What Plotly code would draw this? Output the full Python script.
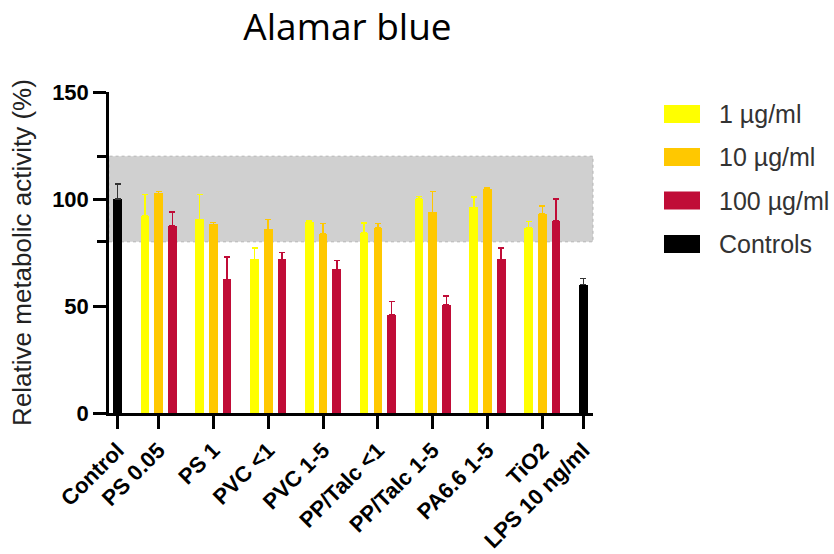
import plotly.graph_objects as go

# ---------------- data ----------------
categories = ["Control", "PS 0.05", "PS 1", "PVC <1", "PVC 1-5", "PP/Talc <1",
              "PP/Talc 1-5", "PA6.6 1-5", "TiO2", "LPS 10 ng/ml"]
control_labels = ["Control", "LPS 10 ng/ml"]
treatment_labels = categories[1:9]

series_names = ["1 µg/ml", "10 µg/ml", "100 µg/ml", "Controls"]

dose_1 = [92.0, 90.5, 71.8, 89.4, 84.3, 100.0, 96.1, 86.6]
dose_1_err = [10.0, 11.5, 5.2, 0.6, 4.6, 1.2, 4.8, 2.8]
dose_10 = [102.6, 88.2, 85.8, 83.6, 86.6, 93.8, 104.7, 93.0]
dose_10_err = [0.8, 0.8, 4.7, 5.0, 2.0, 9.6, 0.4, 3.7]
dose_100 = [87.5, 62.5, 71.8, 67.1, 45.8, 50.5, 71.8, 89.9]
dose_100_err = [6.5, 10.5, 3.2, 4.1, 6.2, 4.2, 5.2, 10.1]
controls = [100.0, 60.0]
controls_err = [6.9, 2.9]

band_low, band_high = 80, 120
y_ticks = [0, 50, 100, 150]

# ---------------- styles ----------------
colors = ["#FFFF00", "#FFC800", "#C00C37", "#000000"]
FONT = "Liberation Sans, Arial, sans-serif"
BAR_W = 0.63
GAP = 1  # empty slots between groups

# ---------------- layout of slots (derived from group sizes) ----------------
group_sizes = [1 if c in control_labels else 3 for c in categories]
starts, centers = [], []
slot = 0
for n in group_sizes:
    starts.append(slot)
    centers.append(slot + (n - 1) / 2)
    slot += n + GAP
treat_starts = [s for s, c in zip(starts, categories) if c not in control_labels]
ctrl_x = [s for s, c in zip(starts, categories) if c in control_labels]

fig = go.Figure()
for k, (vals, errs) in enumerate([(dose_1, dose_1_err), (dose_10, dose_10_err),
                                  (dose_100, dose_100_err)]):
    fig.add_trace(go.Bar(
        x=[s + k for s in treat_starts], y=vals, width=BAR_W,
        name=series_names[k], marker=dict(color=colors[k], line=dict(width=0)),
        error_y=dict(type="data", array=errs, arrayminus=[0] * len(errs),
                     symmetric=False, color=colors[k], thickness=1.5, width=3),
        customdata=treatment_labels, showlegend=False))
fig.add_trace(go.Bar(
    x=ctrl_x, y=controls, width=BAR_W, name=series_names[3],
    marker=dict(color=colors[3], line=dict(width=0)),
    error_y=dict(type="data", array=controls_err, arrayminus=[0, 0],
                 symmetric=False, color="#333333", thickness=1.5, width=3),
    customdata=control_labels, showlegend=False))

# ---------------- geometry ----------------
W, H = 834, 554
L, R, T, B = 109, 593, 92, 413


def px_x(x):
    return (x - L) / (R - L)


def px_y(y):
    return (B - y) / (B - T)


shapes = [dict(type="rect", xref="x domain", yref="y", x0=0, x1=1,
               y0=band_low, y1=band_high, fillcolor="#D0D0D0",
               line=dict(color="#B5B5B5", width=1, dash="dot"), layer="below")]
annotations = []
# custom legend
leg_y = [114, 157, 200.5, 244]
for name, col, yc in zip(series_names, colors, leg_y):
    shapes.append(dict(type="rect", xref="paper", yref="paper",
                       x0=px_x(664), x1=px_x(700), y0=px_y(yc + 9), y1=px_y(yc - 9),
                       fillcolor=col, line=dict(width=0)))
    annotations.append(dict(xref="paper", yref="paper", x=px_x(717), y=px_y(yc),
                            xanchor="left", yanchor="middle", text=name,
                            showarrow=False,
                            font=dict(family=FONT, size=25, color="#333333")))

fig.update_layout(
    width=W, height=H,
    margin=dict(l=L, r=W - R, t=T, b=H - B, pad=0, autoexpand=False),
    paper_bgcolor="white", plot_bgcolor="white",
    bargap=0, showlegend=False,
    title=dict(text="Alamar blue", x=347.5 / W, xanchor="center", xref="container",
               y=1 - 27 / H, yanchor="middle", yref="container", automargin=False,
               font=dict(family="Open Sans, sans-serif", size=37, color="black")),
    xaxis=dict(range=[-0.62, 34.7], tickmode="array", tickvals=centers,
               ticktext=categories, tickangle=-45, showline=True, linewidth=2.5,
               linecolor="black", ticks="outside", ticklen=13, tickwidth=2.5,
               tickcolor="black", showgrid=False, zeroline=False, automargin=False,
               tickfont=dict(family=FONT, size=22, color="black", weight="bold")),
    yaxis=dict(range=[0, 150], tickmode="array", tickvals=y_ticks,
               showline=True, linewidth=2.5, linecolor="black", ticks="outside",
               ticklen=13, tickwidth=2.5, tickcolor="black", showgrid=False,
               zeroline=False, automargin=False,
               minor=dict(tickmode="array", tickvals=[band_low, band_high],
                          ticks="outside", ticklen=9, tickwidth=2.5, tickcolor="black"),
               tickfont=dict(family=FONT, size=22, color="black", weight="bold"),
               title=dict(text="Relative metabolic activity (%)", standoff=14,
                          font=dict(family=FONT, size=26, color="#222222"))),
    shapes=shapes, annotations=annotations,
)

fig.write_html("out.html", config={"displayModeBar": False},
               post_script="document.body.style.margin='0';")
